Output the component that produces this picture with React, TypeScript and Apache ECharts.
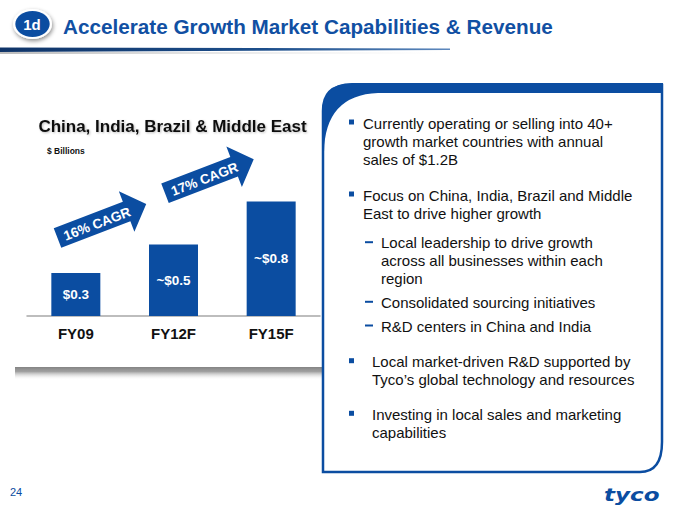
import React, { useEffect, useRef } from "react";
import * as echarts from "echarts";

const categories = ["FY09", "FY12F", "FY15F"];
const values = [0.3, 0.5, 0.8];
const valueLabels = ["$0.3", "~$0.5", "~$0.8"];
const cagrLabels = ["16% CAGR", "17% CAGR"];
const chartTitle = "China, India, Brazil & Middle East";
const unitLabel = "$ Billions";
const slideTitle = "Accelerate Growth Market Capabilities & Revenue";

const bullets = [
  { kind: "b", x: 363, y: 123, text: "Currently operating or selling into 40+\ngrowth market countries with annual\nsales of $1.2B" },
  { kind: "b", x: 363, y: 195, text: "Focus on China, India, Brazil and Middle\nEast to drive higher growth" },
  { kind: "s", x: 381, y: 242.7, text: "Local leadership to drive growth\nacross all businesses within each\nregion" },
  { kind: "s", x: 381, y: 302.3, text: "Consolidated sourcing initiatives" },
  { kind: "s", x: 381, y: 326, text: "R&D centers in China and India" },
  { kind: "b", x: 372, y: 361.7, text: "Local market-driven R&D supported by\nTyco\u2019s global technology and resources" },
  { kind: "b", x: 372, y: 414.3, text: "Investing in local sales and marketing\ncapabilities" },
];

const BLUE = "#0b4da1";
const FONT = "'Liberation Sans', Arial, sans-serif";

echarts.graphic.registerShape(
  "panelOutline",
  echarts.graphic.extendPath("M323,472 L323,111 Q323,85 350,85 L662,85 L662,442 Q662,472 640,472 Z", {})
);
echarts.graphic.registerShape(
  "panelBand",
  echarts.graphic.extendPath("M322,116 Q322,83 352,83 L663,83 L663,93 L378,93 Q325,95 324,152 Z", {})
);

function arrow(cx: number, cy: number, label: string) {
  const rot = (21 * Math.PI) / 180;
  return {
    type: "group",
    x: cx,
    y: cy,
    rotation: rot,
    children: [
      {
        type: "polygon",
        shape: {
          points: [
            [0, -10.5],
            [74, -10.5],
            [74, -21.7],
            [95, 0],
            [74, 21.7],
            [74, 10.5],
            [0, 10.5],
          ],
        },
        style: { fill: BLUE },
      },
      {
        type: "text",
        x: 42,
        y: 1,
        style: {
          text: label,
          fill: "#fff",
          font: `bold 13.5px ${FONT}`,
          textAlign: "center",
          textVerticalAlign: "middle",
        },
      },
    ],
  };
}

export default function App() {
  const ref = useRef<HTMLDivElement>(null);
  useEffect(() => {
    document.body.style.margin = "0";
    const chart = echarts.init(ref.current!, null, { renderer: "svg" });
    const graphics: any[] = [];

    // badge
    graphics.push({
      type: "ellipse",
      shape: { cx: 32.5, cy: 24, rx: 19.5, ry: 15 },
      style: { fill: "#fff", shadowBlur: 4, shadowColor: "rgba(0,0,0,0.45)", shadowOffsetX: 1, shadowOffsetY: 2 },
    });
    graphics.push({
      type: "ellipse",
      shape: { cx: 32.5, cy: 24, rx: 17.2, ry: 13 },
      style: { fill: BLUE },
    });
    graphics.push({
      type: "text",
      x: 32,
      y: 24.5,
      style: { text: "1d", fill: "#fff", font: `bold 15px ${FONT}`, textAlign: "center", textVerticalAlign: "middle" },
    });
    graphics.push({
      type: "text",
      x: 63,
      y: 26,
      style: { text: slideTitle, fill: "#1150a3", font: `bold 20.7px ${FONT}`, textAlign: "left", textVerticalAlign: "middle" },
    });
    // title underline
    graphics.push({
      type: "polygon",
      shape: { points: [[0, 47.5], [450, 48.5], [450, 50], [0, 52]] },
      style: {
        fill: new echarts.graphic.LinearGradient(0, 0, 1, 0, [
          { offset: 0, color: "#0f3468" },
          { offset: 0.6, color: "#1d4f8c" },
          { offset: 1, color: "#5d88bd" },
        ]),
      },
    });
    graphics.push({
      type: "rect",
      shape: { x: 0, y: 52, width: 440, height: 2 },
      style: {
        fill: new echarts.graphic.LinearGradient(0, 0, 1, 0, [
          { offset: 0, color: "rgba(120,120,120,0.5)" },
          { offset: 1, color: "rgba(200,200,200,0)" },
        ]),
      },
    });

    // chart subtitle & unit
    graphics.push({
      type: "text",
      x: 172.5,
      y: 126,
      style: {
        text: chartTitle,
        fill: "#111",
        font: `bold 17px ${FONT}`,
        textAlign: "center",
        textVerticalAlign: "middle",
        textShadowColor: "rgba(0,0,0,0.25)",
        textShadowBlur: 2,
        textShadowOffsetX: 1,
        textShadowOffsetY: 1,
      },
    });
    graphics.push({
      type: "text",
      x: 47,
      y: 151,
      style: { text: unitLabel, fill: "#111", font: `bold 8.5px ${FONT}`, textAlign: "left", textVerticalAlign: "middle" },
    });

    // arrows
    graphics.push(arrow(57.5, 238, cagrLabels[0]));
    graphics.push(arrow(165, 193.3, cagrLabels[1]));

    // shadow bar under chart
    graphics.push({
      type: "rect",
      shape: { x: 15, y: 367, width: 308, height: 13 },
      style: {
        fill: new echarts.graphic.LinearGradient(0, 0, 0, 1, [
          { offset: 0, color: "rgba(110,110,110,0.85)" },
          { offset: 0.35, color: "rgba(120,120,120,0.7)" },
          { offset: 1, color: "rgba(255,255,255,0)" },
        ]),
      },
    });

    // panel
    graphics.push({
      type: "panelOutline",
      style: { fill: "#fff", stroke: BLUE, lineWidth: 2.5 },
    });
    graphics.push({ type: "panelBand", style: { fill: BLUE } });

    bullets.forEach((b) => {
      if (b.kind === "b") {
        graphics.push({
          type: "rect",
          shape: { x: 349, y: b.y - 3.5, width: 5, height: 5 },
          style: { fill: BLUE },
        });
      } else {
        graphics.push({
          type: "rect",
          shape: { x: 365, y: b.y - 1.5, width: 8, height: 2 },
          style: { fill: BLUE },
        });
      }
      graphics.push({
        type: "text",
        x: b.x,
        y: b.y - 9,
        style: {
          text: b.text,
          fill: "#111",
          font: `15px ${FONT}`,
          lineHeight: 18,
          textAlign: "left",
          textVerticalAlign: "top",
        },
      });
    });

    // footer
    graphics.push({
      type: "text",
      x: 10,
      y: 492,
      style: { text: "24", fill: BLUE, font: `11px ${FONT}`, textAlign: "left", textVerticalAlign: "middle" },
    });
    graphics.push({
      type: "text",
      x: 604,
      y: 495,
      scaleX: 1.28,
      style: {
        text: "tyco",
        fill: BLUE,
        font: `italic bold 18px 'DejaVu Sans', sans-serif`,
        textAlign: "left",
        textVerticalAlign: "middle",
      },
    });

    chart.setOption({
      animation: false,
      backgroundColor: "#fff",
      grid: { left: 27, top: 173, width: 293, height: 143, containLabel: false },
      xAxis: {
        type: "category",
        data: categories,
        axisLine: { show: true, lineStyle: { color: "#a8a8a8", width: 1.5 } },
        axisTick: { show: false },
        axisLabel: { color: "#111", fontFamily: FONT, fontWeight: "bold", fontSize: 15, margin: 10 },
      },
      yAxis: { type: "value", min: 0, max: 1, show: false, splitLine: { show: false } },
      series: [
        {
          type: "bar",
          data: values,
          barWidth: 49,
          itemStyle: { color: BLUE },
          label: {
            show: true,
            position: "inside",
            color: "#fff",
            fontFamily: FONT,
            fontWeight: "bold",
            fontSize: 13.5,
            formatter: (p: any) => valueLabels[p.dataIndex],
          },
        },
      ],
      graphic: graphics,
    });
    return () => chart.dispose();
  }, []);
  return <div ref={ref} style={{ width: 680, height: 510 }} />;
}
